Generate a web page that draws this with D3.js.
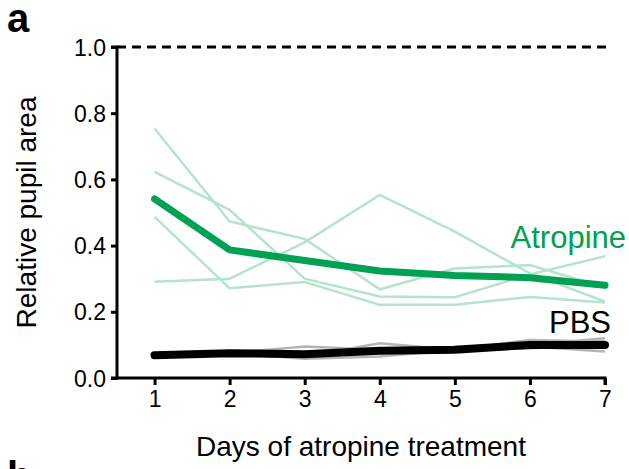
<!DOCTYPE html>
<html>
<head>
<meta charset="utf-8">
<script src="https://cdn.jsdelivr.net/npm/d3@7"></script>
<style>
  body { margin: 0; background: #fff; }
  svg { font-family: "Liberation Sans", Arial, sans-serif; }
</style>
</head>
<body>
<svg id="chart" width="629" height="469"></svg>
<script>
const days = [1, 2, 3, 4, 5, 6, 7];
const yTicks = [0, 0.2, 0.4, 0.6, 0.8, 1.0];

// individual eyes, atropine
const atropineRuns = [
  [0.754, 0.473, 0.420, 0.268, 0.331, 0.341, 0.273],
  [0.291, 0.300, 0.410, 0.553, 0.442, 0.316, 0.231],
  [0.623, 0.508, 0.300, 0.246, 0.244, 0.313, 0.368],
  [0.487, 0.271, 0.290, 0.221, 0.221, 0.245, 0.228]
];
const atropineMean = [0.541, 0.387, 0.355, 0.323, 0.310, 0.303, 0.280];

// individual eyes, PBS
const pbsRuns = [
  [0.070, 0.075, 0.095, 0.085, 0.080, 0.100, 0.120],
  [0.068, 0.076, 0.065, 0.105, 0.085, 0.115, 0.110],
  [0.072, 0.074, 0.072, 0.075, 0.090, 0.095, 0.080],
  [0.070, 0.075, 0.058, 0.065, 0.085, 0.090, 0.100]
];
const pbsMean = [0.069, 0.075, 0.072, 0.082, 0.085, 0.100, 0.100];

const margin = { top: 47, left: 117, bottom: 378, right: 607 };
const svg = d3.select('#chart');

const x = d3.scaleLinear().domain([0.5, 7]).range([margin.left, 605]);
const y = d3.scaleLinear().domain([0, 1]).range([margin.bottom, margin.top]);

const line = d3.line()
  .x((d, i) => x(days[i]))
  .y(d => y(d));

// reference line at 1.0
svg.append('line')
  .attr('x1', x(0.5)).attr('x2', 611)
  .attr('y1', y(1)).attr('y2', y(1))
  .attr('stroke', '#000')
  .attr('stroke-width', 3)
  .attr('stroke-dasharray', '9,6');

// thin lines
svg.append('g').selectAll('path')
  .data(pbsRuns)
  .enter().append('path')
  .attr('d', line)
  .attr('fill', 'none')
  .attr('stroke', '#b4b4b4')
  .attr('stroke-width', 2.5);

svg.append('g').selectAll('path')
  .data(atropineRuns)
  .enter().append('path')
  .attr('d', line)
  .attr('fill', 'none')
  .attr('stroke', '#b5e4cd')
  .attr('stroke-width', 2.5);

// means
svg.append('path')
  .attr('d', line(atropineMean))
  .attr('fill', 'none')
  .attr('stroke', '#00a152')
  .attr('stroke-width', 7)
  .attr('stroke-linecap', 'round')
  .attr('stroke-linejoin', 'round');

svg.append('path')
  .attr('d', line(pbsMean))
  .attr('fill', 'none')
  .attr('stroke', '#000')
  .attr('stroke-width', 8)
  .attr('stroke-linecap', 'round')
  .attr('stroke-linejoin', 'round');

// axes
let yAxis = svg.append('g')
  .attr('transform', `translate(${margin.left},0)`)
  .call(d3.axisLeft(y).tickValues(yTicks).tickFormat(d3.format('.1f')).tickSize(6).tickPadding(5));

let xAxis = svg.append('g')
  .attr('transform', `translate(0,${margin.bottom})`)
  .call(d3.axisBottom(x).tickValues(days).tickFormat(d3.format('d')).tickSize(7).tickPadding(6));

[yAxis, xAxis].forEach(ax => {
  ax.select('.domain').attr('stroke-width', 3).attr('stroke', '#000');
  ax.selectAll('.tick line').attr('stroke-width', 3).attr('stroke', '#000');
  ax.selectAll('.tick text')
    .attr('font-size', 23)
    .attr('font-family', '"Liberation Sans", Arial, sans-serif')
    .attr('fill', '#000');
});
yAxis.selectAll('.tick text').attr('dy', '0.35em');
// remove outer tick sizes of the domain paths
yAxis.select('.domain').attr('d', `M-6,${y(1)}H0V${y(0)}H-6`);
xAxis.select('.domain').attr('d', `M${x(0.5)},0H${x(7)}V7`);

// labels
svg.append('text')
  .attr('transform', `translate(36,${(y(0) + y(1)) / 2}) rotate(-90)`)
  .attr('text-anchor', 'middle')
  .attr('font-size', 28)
  .text('Relative pupil area');

svg.append('text')
  .attr('x', (x(0.5) + x(7)) / 2)
  .attr('y', 456)
  .attr('text-anchor', 'middle')
  .attr('font-size', 28)
  .text('Days of atropine treatment');

svg.append('text')
  .attr('x', 626).attr('y', 248)
  .attr('text-anchor', 'end')
  .attr('font-size', 31)
  .attr('fill', '#00a152')
  .text('Atropine');

svg.append('text')
  .attr('x', 611).attr('y', 333)
  .attr('text-anchor', 'end')
  .attr('font-size', 31)
  .attr('fill', '#000')
  .text('PBS');

svg.append('text')
  .attr('x', 7).attr('y', 32)
  .attr('font-size', 40)
  .attr('font-weight', 'bold')
  .text('a');

svg.append('text')
  .attr('x', 7).attr('y', 490)
  .attr('font-size', 40)
  .attr('font-weight', 'bold')
  .text('b');
</script>
</body>
</html>
